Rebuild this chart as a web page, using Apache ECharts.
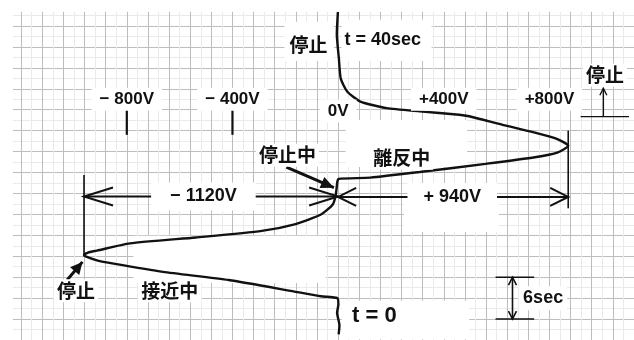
<!DOCTYPE html>
<html><head><meta charset="utf-8">
<script src="https://cdn.jsdelivr.net/npm/echarts@6/dist/echarts.min.js"></script>
<style>html,body{margin:0;padding:0;background:#fff}#c{width:634px;height:340px}</style>
</head><body><div id="c"></div>
<script>
// ---- data (time in seconds, voltage in volts) ----
const timeSec = [-5.2, -3.9, -2.1, -0.9, 0, 0.27, 0.94, 2.59, 3.76, 4.94, 5.41, 5.97, 6.18, 6.53, 6.81, 7.84, 8.69, 9.63, 10.57, 11.98, 13.39, 14.79, 16.67, 17.09, 17.27, 18.07, 19.24, 20.19, 20.89, 21.83, 22.76, 23.71, 24.87, 26.06, 26.28, 26.76, 27.22, 28.17, 29.57, 31.45, 34.27, 37.8, 41.0];
const voltage = [2, 5, -4, 1, -3, -65, -165, -414, -663, -850, -913, -956, -962, -947, -913, -788, -539, -289, -165, -65, -21, -9, -3, 2, 122, 309, 558, 745, 832, 871, 832, 745, 620, 496, 458, 309, 184, 84, 35, 10, 3, -5, -1];
const tickVolts = [-800, -400, 0, 400, 800];
const tickLabels = ['− 800V', '− 400V', '0V', '+400V', '+800V'];
const swingLabels = ['− 1120V', '+ 940V'];
const phaseLabels = ['接近中', '停止中', '離反中'];
const stopLabel = '停止';
const timeLabels = ['t = 0', 't = 40sec', '6sec'];

const curve = timeSec.map((t, i) => [voltage[i], t]);
const vMin = Math.min(...voltage), vMax = Math.max(...voltage);
const tAtMin = timeSec[voltage.indexOf(vMin)];

const JP = '"Noto Sans CJK JP", sans-serif';
const LAT = '"Liberation Sans", Arial, sans-serif';
const INK = '#111';

// ---- annotations (positions in data units) ----
const ann = [];
ann.push({k: 'arrow', a: [tickVolts[0], 27.5], b: [tickVolts[0], 23.4], w: 2.2});
ann.push({k: 'arrow', a: [tickVolts[1], 27.2], b: [tickVolts[1], 23.4], w: 2.2});
ann.push({k: 'arrow', a: [vMin, tAtMin], b: [vMin, 17.65], w: 1.6});
ann.push({k: 'arrow', a: [vMax, 12.87], b: [vMax, 24.0], w: 1.6});
ann.push({k: 'arrow', a: [vMin, 14.56], b: [0, 14.56], w: 2, headA: true, headB: true, len: 29, half: 9});
ann.push({k: 'arrow', a: [0, 14.5], b: [vMax, 14.5], w: 2, headA: true, headB: true, len: 18, half: 9});
ann.push({k: 'arrow', a: [-196, 18.78], b: [-16, 15.82], w: 3, headB: true, filled: true, len: 13, half: 6});
ann.push({k: 'arrow', a: [-1026, 2.59], b: [-968, 5.19], w: 3, headB: true, filled: true, len: 12, half: 6});
ann.push({k: 'arrow', a: [918, 26.0], b: [1101, 26.0], w: 1.4});
ann.push({k: 'arrow', a: [1004, 26.0], b: [1004, 30.08], w: 1.4, headB: true, len: 7, half: 3.5});
ann.push({k: 'arrow', a: [596, 3], b: [742, 3], w: 1.4});
ann.push({k: 'arrow', a: [596, -3], b: [742, -3], w: 1.4});
ann.push({k: 'arrow', a: [660, 3], b: [660, -3], w: 1.6, headA: true, headB: true, len: 8, half: 4});

function txt(at, s, font, size, pad) { ann.push({k: 'text', at, s, font, size, pad: pad || [2, 3]}); }
txt([-112, 36.23], stopLabel, JP, 19);
txt([169, 37.0], timeLabels[1], LAT, 18);
txt([1010, 31.94], stopLabel, JP, 19);
tickVolts.forEach((v, i) => txt([v, v === 0 ? 26.8 : 28.5], tickLabels[i], LAT, 17, [3, 8]));
txt([-192, 20.47], phaseLabels[1], JP, 19);
txt([241, 20.05], phaseLabels[2], JP, 19);
txt([-510, 14.56], swingLabels[0], LAT, 18, [5, 19]);
txt([432, 14.5], swingLabels[1], LAT, 18, [5, 16]);
txt([-992, 1.04], stopLabel, JP, 19);
txt([-637, 1.04], phaseLabels[0], JP, 19);
txt([137, -2.62], timeLabels[0], LAT, 22, [2, 4]);
txt([776, -0.01], timeLabels[2], LAT, 18, [3, 4]);

// white-out regions of the paper
const masks = [
  [[-1400, 41.02], [1300, 60]],
  [[-1400, -10], [-1231, 60]],
  [[-203, 39.61], [-16, 33.98]],
  [[14, 39.9], [354, 33.98]],
  [[-775, 8.92], [-47, 2.17]],
  [[28, 25.52], [488, 18.78]],
  [[14, -0.37], [496, -5.9]],
  [[249, 13.57], [608, 9.49]]
];

function arrowEls(p1, p2, o) {
  const els = [{type: 'line', shape: {x1: p1[0], y1: p1[1], x2: p2[0], y2: p2[1]}, style: {stroke: INK, lineWidth: o.w}}];
  const heads = [];
  if (o.headA) heads.push([p1, p2]);
  if (o.headB) heads.push([p2, p1]);
  heads.forEach(([tip, from]) => {
    const dx = tip[0] - from[0], dy = tip[1] - from[1];
    const L = Math.hypot(dx, dy), ux = dx / L, uy = dy / L;
    const bx = tip[0] - ux * o.len, by = tip[1] - uy * o.len;
    const nx = -uy, ny = ux;
    const l = [bx + nx * o.half, by + ny * o.half], r = [bx - nx * o.half, by - ny * o.half];
    if (o.filled) els.push({type: 'polygon', shape: {points: [tip, l, r]}, style: {fill: INK}});
    else els.push({type: 'polyline', shape: {points: [l, tip, r]}, style: {stroke: INK, lineWidth: o.w, fill: null}});
  });
  return els;
}

const chart = echarts.init(document.getElementById('c'), null, {renderer: 'canvas'});
const axisCommon = {
  type: 'value',
  axisLine: {show: false}, axisTick: {show: false}, axisLabel: {show: false},
  splitLine: {show: true, lineStyle: {color: '#bdbdbd', width: 1}},
  minorTick: {show: false, splitNumber: 2},
  minorSplitLine: {show: true, lineStyle: {color: '#eaeaea', width: 1}}
};
chart.setOption({
  animation: false,
  backgroundColor: '#fff',
  grid: {left: -5, right: -3, top: 5, bottom: -6},
  xAxis: Object.assign({}, axisCommon, {min: -1280, max: 1120, interval: 80}),
  yAxis: Object.assign({}, axisCommon, {min: -6, max: 42, interval: 3}),
  series: [
    {
      type: 'custom', z: 1, silent: true,
      data: masks.map((m, i) => [i]),
      renderItem: (params, api) => {
        const m = masks[params.dataIndex];
        const p1 = api.coord(m[0]), p2 = api.coord(m[1]);
        return {type: 'rect', shape: {x: Math.min(p1[0], p2[0]), y: Math.min(p1[1], p2[1]), width: Math.abs(p2[0] - p1[0]), height: Math.abs(p2[1] - p1[1])}, style: {fill: '#fff'}};
      }
    },
    {
      type: 'line', z: 2, data: curve, symbol: 'none', smooth: 0.2,
      lineStyle: {color: INK, width: 2.4}
    },
    {
      type: 'custom', z: 3, silent: true,
      data: ann.map((a, i) => [i]),
      renderItem: (params, api) => {
        const a = ann[params.dataIndex];
        if (a.k === 'text') {
          const p = api.coord(a.at);
          return {type: 'text', x: p[0], y: p[1], z2: 10, style: {
            text: a.s, fontFamily: a.font, fontWeight: 'bold', fontSize: a.size, fill: INK,
            align: 'center', verticalAlign: 'middle', backgroundColor: '#fff', padding: a.pad
          }};
        }
        return {type: 'group', children: arrowEls(api.coord(a.a), api.coord(a.b), a)};
      }
    }
  ]
});
</script>
</body></html>
